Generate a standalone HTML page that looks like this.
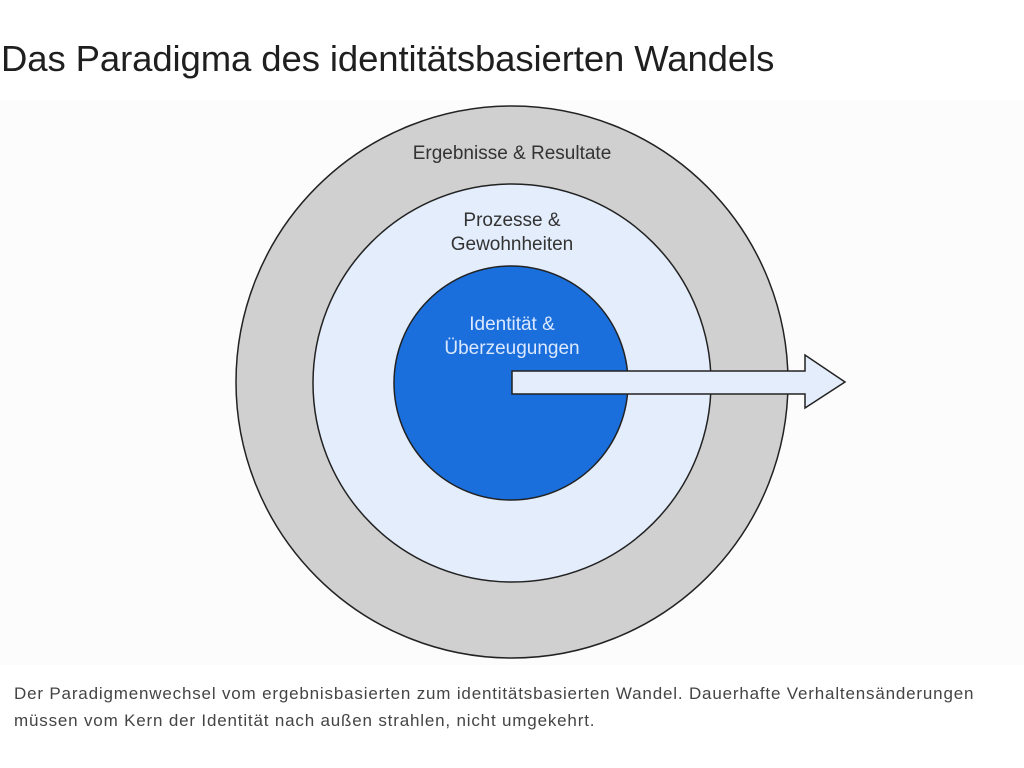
<!DOCTYPE html>
<html><head><meta charset="utf-8"><style>
body{margin:0;width:1024px;height:768px;background:#fff;font-family:"Liberation Sans",sans-serif;position:relative;overflow:hidden}
h1{position:absolute;left:1px;top:38px;margin:0;font-weight:400;font-size:36.5px;color:#1f1f1f;letter-spacing:-0.1px;white-space:nowrap}
.cap{position:absolute;left:14px;top:680px;font-size:17px;line-height:27px;color:#444;letter-spacing:0.82px;white-space:nowrap}
svg{position:absolute;left:0;top:0}
</style></head><body>
<h1>Das Paradigma des identitätsbasierten Wandels</h1>
<svg width="1024" height="768">
<rect x="0" y="100" width="1024" height="565" fill="#fcfcfc"/>
<circle cx="512" cy="382" r="276" fill="#d0d0d0" stroke="#222" stroke-width="1.5"/>
<circle cx="512" cy="383" r="199" fill="#e3edfb" stroke="#222" stroke-width="1.5"/>
<circle cx="511" cy="383" r="117" fill="#1a6fdc" stroke="#222" stroke-width="1.5"/>
<polygon points="512,371 805,371 805,355 845,382 805,408 805,394 512,394" fill="#e3edfb" stroke="#222" stroke-width="1.5"/>
<g font-family="Liberation Sans, sans-serif" font-size="19" text-anchor="middle">
<text x="512" y="159" fill="#333">Ergebnisse &amp; Resultate</text>
<text x="512" y="226" fill="#333">Prozesse &amp;</text>
<text x="512" y="250" fill="#333">Gewohnheiten</text>
<text x="512" y="330" fill="#dbe8ff">Identität &amp;</text>
<text x="512" y="354" fill="#dbe8ff">Überzeugungen</text>
</g>
</svg>
<div class="cap">Der Paradigmenwechsel vom ergebnisbasierten zum identitätsbasierten Wandel. Dauerhafte Verhaltensänderungen<br>müssen vom Kern der Identität nach außen strahlen, nicht umgekehrt.</div>
</body></html>
